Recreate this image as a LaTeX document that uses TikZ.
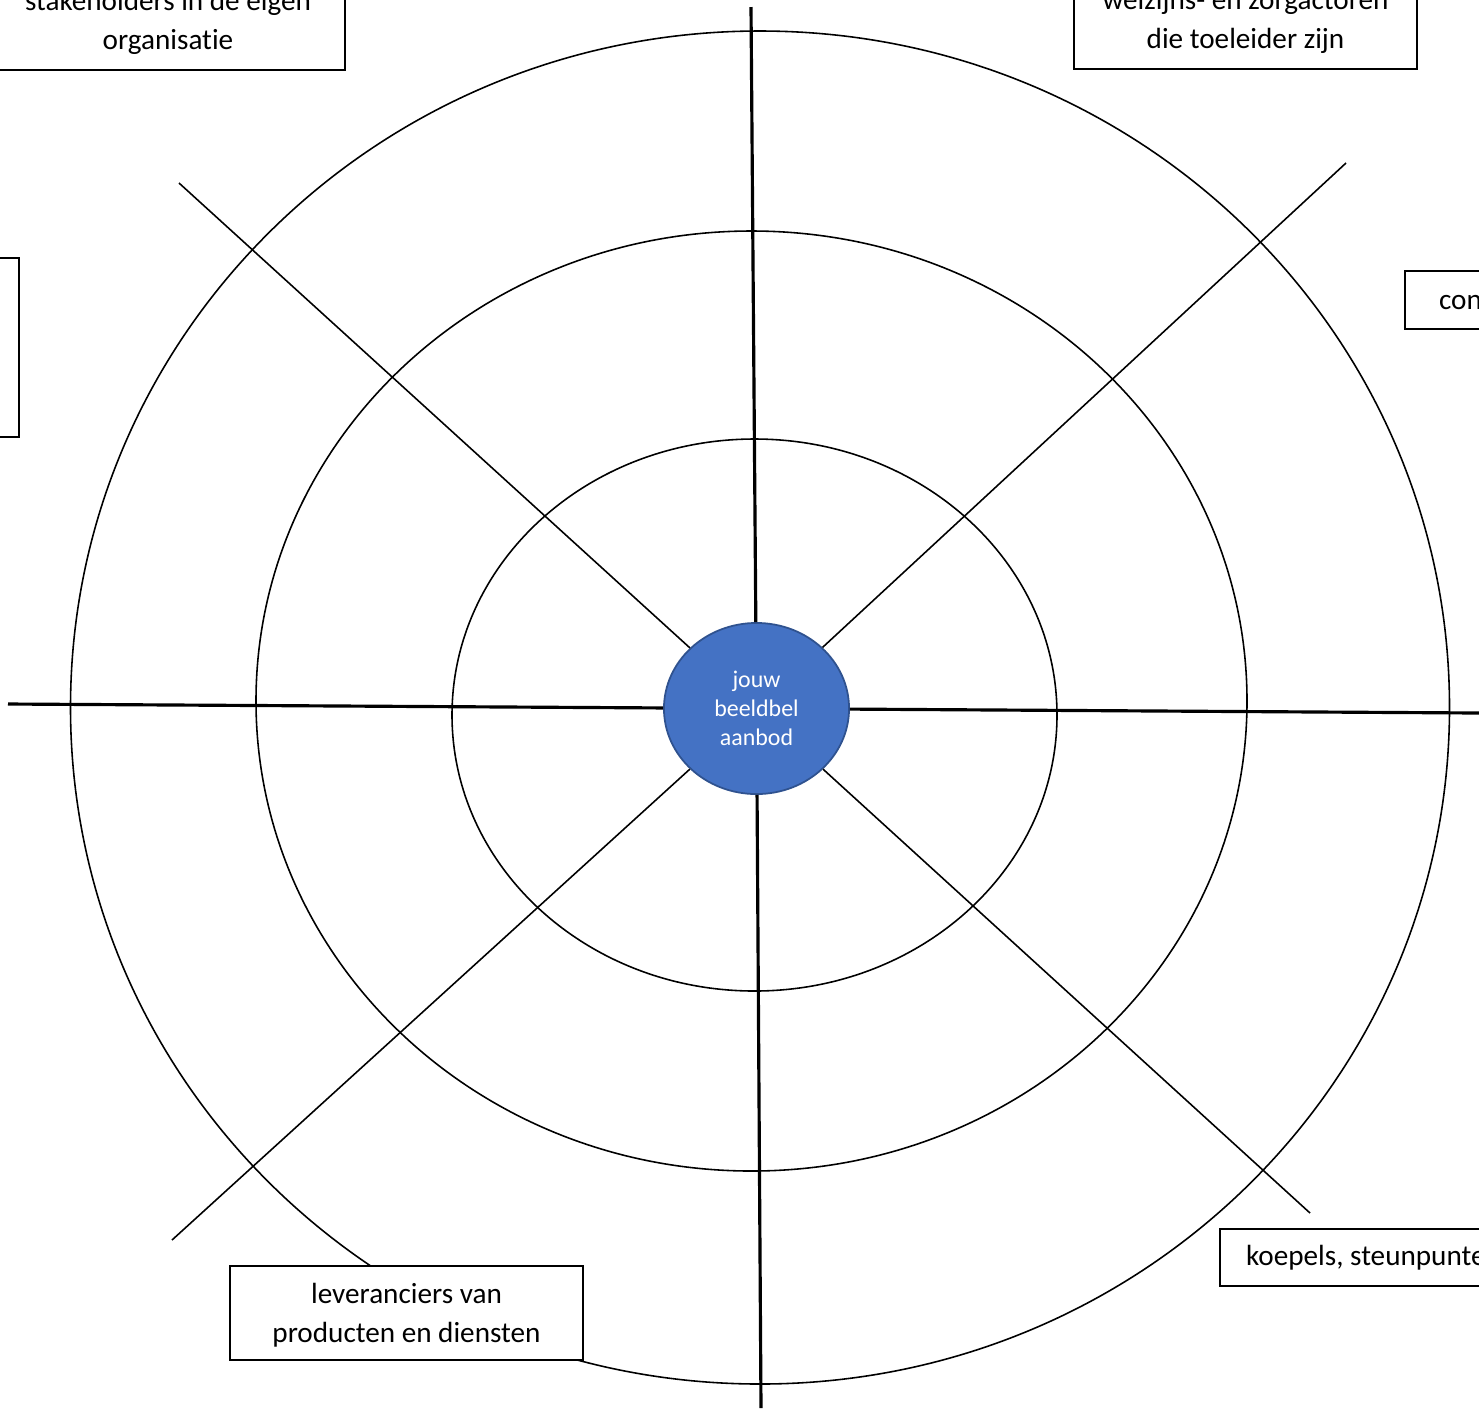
\documentclass[tikz,border=0pt]{standalone}
\usepackage{fontspec}
\setmainfont{Carlito}[Ligatures=NoCommon]
\usetikzlibrary{shapes.geometric}
\definecolor{hubblue}{HTML}{4472C4}
\definecolor{hubedge}{HTML}{2F528F}
\tikzset{
  ring/.style={line width=0.45pt},
  spoke/.style={line width=0.45pt},
  axis/.style={line width=0.9pt},
  hub/.style={ellipse, draw=hubedge, line width=0.5pt, fill=hubblue, text=white,
    minimum width=1.85cm, minimum height=1.71cm, inner sep=0pt, align=center,
    font=\fontsize{6.8}{8.25}\selectfont},
  labelbox/.style={draw, line width=0.6pt, fill=white, align=center, inner sep=0pt,
    font=\fontsize{8.3}{11.1}\selectfont},
}
\begin{document}
\begin{tikzpicture}[x=0.01cm, y=-0.01cm]
  \useasboundingbox (0,0) rectangle (1479,1408);
  \clip (0,0) rectangle (1479,1408);
  % rings
  \draw[ring] (760,707.5) ellipse [x radius=689.5, y radius=676.5];
  \draw[ring] (751.5,701) ellipse [x radius=495.5, y radius=470];
  \draw[ring] (754.5,715) ellipse [x radius=302.5, y radius=276];
  % centre and spoke ends
  \draw
    (756.5,708.5) node[hub] (hub){jouw\\beeldbel\\aanbod}
    (751,7) coordinate (n)
    (1479,713) coordinate (e)
    (761,1408) coordinate (s)
    (8,704) coordinate (w)
    (1346,163) coordinate (ne)
    (179,183) coordinate (nw)
    (172,1240) coordinate (sw)
    (1310,1213) coordinate (se);
  \begin{scope}[-]
    \draw[axis] (hub) to (n);
    \draw[axis] (hub) to (e);
    \draw[axis] (hub) to (s);
    \draw[axis] (hub) to (w);
    \draw[spoke] (hub) to (ne);
    \draw[spoke] (hub) to (nw);
    \draw[spoke] (hub) to (sw);
    \draw[spoke] (hub) to (se);
  \end{scope}
  % stakeholder boxes
  \node[labelbox, minimum width=3.54cm, minimum height=0.96cm] (eigen) at (168,22)
    {stakeholders in de eigen\\organisatie};
  \node[labelbox, minimum width=3.43cm, minimum height=0.95cm] (welzijn) at (1245.5,21.5)
    {welzijns- en zorgactoren\\die toeleider zijn};
  \node[labelbox, anchor=east, minimum width=3.5cm, minimum height=1.79cm] (links) at (20,347.5) {};
  \node[labelbox, anchor=west, minimum height=0.58cm, inner xsep=0.34cm] (con) at (1404,300)
    {concurrenten};
  \node[labelbox, anchor=west, minimum height=0.57cm, inner xsep=0.26cm] (koepels) at (1219,1257.5)
    {koepels, steunpunten};
  \node[labelbox, minimum width=3.53cm, minimum height=0.94cm, text depth=0pt] (leveranciers) at (406.5,1313)
    {leveranciers van\\producten en diensten};
\end{tikzpicture}
\end{document}
